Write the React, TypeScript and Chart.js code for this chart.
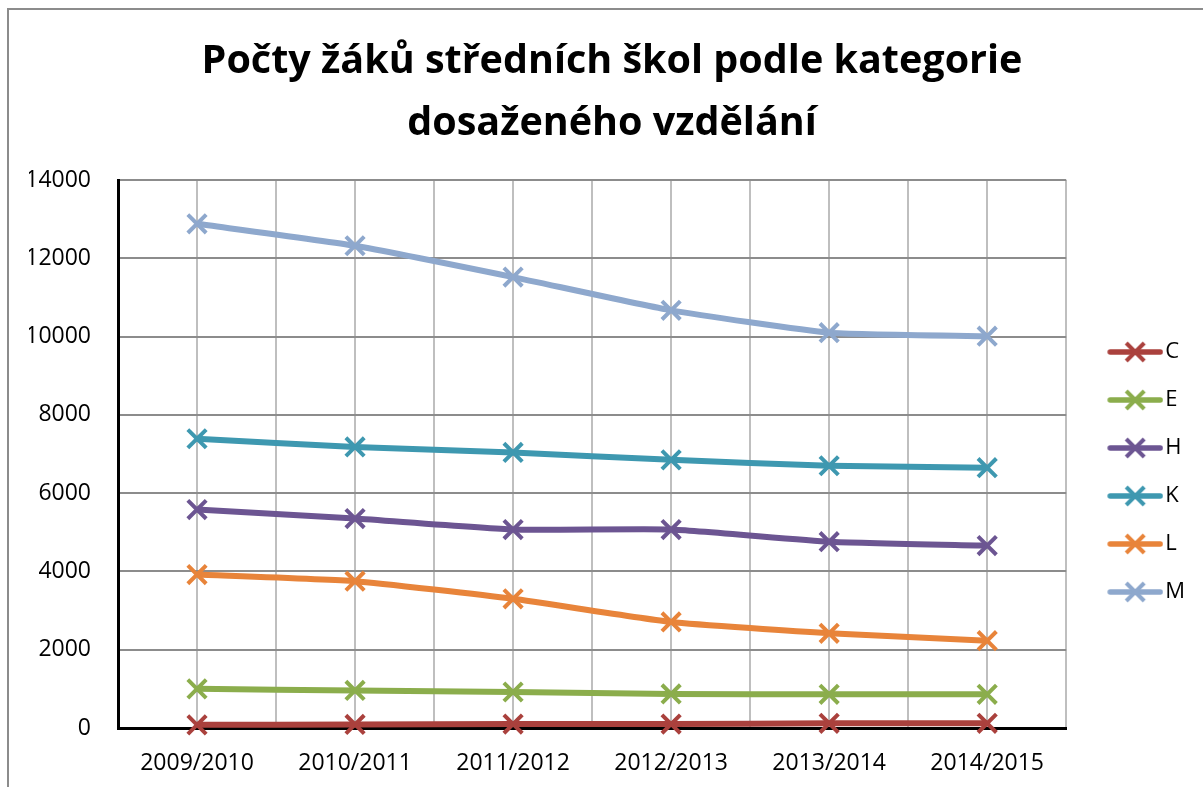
import React, { useEffect, useRef } from 'react';
import { Chart, registerables } from 'chart.js';

Chart.register(...registerables);

const categories = ['2009/2010', '2010/2011', '2011/2012', '2012/2013', '2013/2014', '2014/2015'];
const seriesNames = ['C', 'E', 'H', 'K', 'L', 'M'];
const valuesC = [80, 90, 100, 100, 120, 120];
const valuesE = [1000, 960, 920, 870, 860, 860];
const valuesH = [5580, 5350, 5070, 5070, 4760, 4660];
const valuesK = [7390, 7180, 7040, 6850, 6700, 6650];
const valuesL = [3920, 3750, 3300, 2710, 2420, 2230];
const valuesM = [12880, 12320, 11520, 10670, 10100, 10010];
const seriesColors = ['#AA413D', '#8BAD4C', '#6C5592', '#3E98B0', '#E8843A', '#8EA8CD'];
const titleLines = ['Počty žáků středních škol podle kategorie', 'dosaženého vzdělání'];
const yMin = 0;
const yMax = 14000;
const yStep = 2000;

const FONT = '"Open Sans", Lato, sans-serif';

function legendMarker(color: string): HTMLCanvasElement {
  const c = document.createElement('canvas');
  c.width = 80;
  c.height = 24;
  const ctx = c.getContext('2d') as CanvasRenderingContext2D;
  ctx.strokeStyle = color;
  ctx.lineCap = 'round';
  ctx.lineWidth = 5.5;
  ctx.beginPath();
  ctx.moveTo(27, 12);
  ctx.lineTo(77, 12);
  ctx.stroke();
  ctx.lineCap = 'butt';
  ctx.lineWidth = 4;
  const r = 9;
  const cx = 52;
  ctx.beginPath();
  ctx.moveTo(cx - r, 12 - r);
  ctx.lineTo(cx + r, 12 + r);
  ctx.moveTo(cx - r, 12 + r);
  ctx.lineTo(cx + r, 12 - r);
  ctx.stroke();
  return c;
}

export default function App() {
  const canvasRef = useRef<HTMLCanvasElement | null>(null);

  useEffect(() => {
    const canvas = canvasRef.current;
    if (!canvas) return;
    const allValues = [valuesC, valuesE, valuesH, valuesK, valuesL, valuesM];
    const markers = seriesColors.map((c) => legendMarker(c));
    const datasets = seriesNames.map((name, i) => ({
      label: name,
      data: allValues[i],
      borderColor: seriesColors[i],
      backgroundColor: seriesColors[i],
      borderWidth: 6,
      tension: 0.15,
      pointStyle: 'crossRot' as const,
      pointRadius: 13,
      pointHoverRadius: 13,
      pointBorderWidth: 4,
      pointBorderColor: seriesColors[i],
      clip: false as const,
      order: i,
    }));

    const chart = new Chart(canvas, {
      type: 'line',
      data: { labels: categories, datasets },
      options: {
        responsive: false,
        animation: false,
        layout: { padding: { left: 29, right: 8, top: 0, bottom: 0 } },
        plugins: {
          tooltip: { enabled: false },
          title: {
            display: true,
            text: titleLines,
            color: '#000000',
            font: { family: FONT, size: 39.5, weight: 'bold', lineHeight: 62 / 39.5 },
            padding: { top: 31, bottom: 25 },
          },
          legend: {
            display: true,
            position: 'right',
            align: 'start',
            title: { display: true, text: ' ', padding: { top: 150, bottom: 141 }, font: { size: 20, lineHeight: 1.2 } },
            labels: {
              usePointStyle: true,
              pointStyleWidth: 62,
              boxHeight: 22,
              padding: 26,
              color: '#000000',
              font: { family: FONT, size: 22 },
              generateLabels: (ch: any) => {
                const items = Chart.defaults.plugins.legend.labels.generateLabels(ch);
                return items.map((it: any, i: number) => ({ ...it, pointStyle: markers[i], rotation: 0 }));
              },
            },
          },
        },
        scales: {
          x: {
            type: 'category',
            position: 'bottom',
            offset: true,
            grid: { offset: true, color: '#BFBFBF', lineWidth: 2, drawTicks: false },
            border: { display: true, color: '#000000', width: 3 },
            ticks: { color: '#000000', font: { family: FONT, size: 23 }, padding: 22, maxRotation: 0, autoSkip: false },
            afterFit: (s: any) => { s.height = 59; },
          },
          x2: {
            type: 'category',
            position: 'bottom',
            offset: true,
            grid: { offset: false, color: '#BFBFBF', lineWidth: 2, drawTicks: false },
            border: { display: false },
            ticks: { display: false },
            afterFit: (s: any) => { s.height = 0; },
          },
          y: {
            type: 'linear',
            min: yMin,
            max: yMax,
            ticks: {
              stepSize: yStep,
              color: '#000000',
              font: { family: FONT, size: 23 },
              padding: 27,
              callback: (v: any) => String(v),
            },
            grid: { color: '#8C8C8C', lineWidth: 2, drawTicks: false },
            border: { display: true, color: '#000000', width: 3 },
            afterFit: (s: any) => { s.width = 89; },
          },
        },
      },
    });
    return () => chart.destroy();
  }, []);

  return (
    <div style={{ position: 'fixed', left: 0, top: 0, width: 1203, height: 787, overflow: 'hidden', background: '#ffffff' }}>
      <div style={{ position: 'absolute', left: 7, top: 8, width: 1300, height: 900, border: '2px solid #8C8C8C', boxSizing: 'border-box' }} />
      <canvas ref={canvasRef} width={1203} height={787} style={{ position: 'absolute', left: 0, top: 0, width: 1203, height: 787, display: 'block' }} />
    </div>
  );
}
